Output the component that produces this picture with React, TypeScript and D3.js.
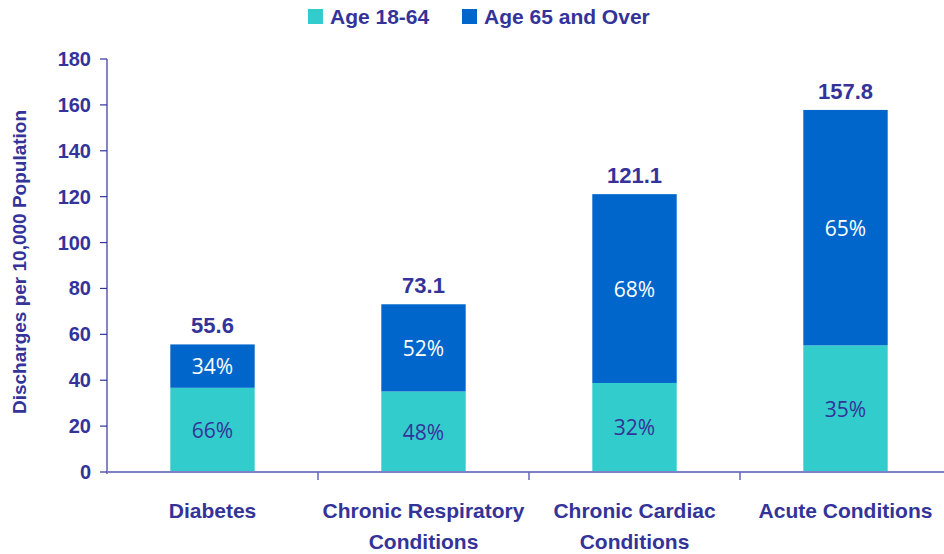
import * as d3 from 'd3';

const categories = ['Diabetes', 'Chronic Respiratory|Conditions', 'Chronic Cardiac|Conditions', 'Acute Conditions'];
const under65 = [36.7, 35.1, 38.8, 55.2];
const over65 = [18.9, 38.0, 82.3, 102.6];
const totals = ['55.6', '73.1', '121.1', '157.8'];
const pctUnder = ['66%', '48%', '32%', '35%'];
const pctOver = ['34%', '52%', '68%', '65%'];
const yTicks = [0, 20, 40, 60, 80, 100, 120, 140, 160, 180];
const seriesNames = ['Age 18-64', 'Age 65 and Over'];

const TEAL = '#33cccc';
const BLUE = '#0066cc';
const NAVY = '#333399';

export default function App() {
  const width = 944;
  const height = 554;
  const left = 107;
  const bottom = 472;
  const top = 59;

  const x = d3.scaleBand<string>().domain(categories).range([left, left + 4 * 211]).paddingInner(0).paddingOuter(0);
  const y = d3.scaleLinear().domain([0, 180]).range([bottom, top]);
  const barW = x.bandwidth() * 0.4;

  const narrow = '"Liberation Sans Narrow", "Arial Narrow", sans-serif';
  const sans = '"Liberation Sans", Arial, sans-serif';

  return (
    <svg width={width} height={height} style={{ position: 'absolute', left: 0, top: 0 }}>
      <rect width={width} height={height} fill="#fff" />

      {/* legend */}
      <g fontFamily={narrow} fontWeight="bold" fontSize={21} fill={NAVY}>
        <rect x={308} y={9} width={15} height={15} fill={TEAL} />
        <text x={330} y={24}>{seriesNames[0]}</text>
        <rect x={462} y={9} width={15} height={15} fill={BLUE} />
        <text x={484} y={24}>{seriesNames[1]}</text>
      </g>

      {/* y axis */}
      <line x1={left} x2={left} y1={top} y2={bottom + 2} stroke={NAVY} strokeWidth={1.2} />
      {yTicks.map((t) => (
        <g key={t}>
          <line x1={left - 7} x2={left} y1={y(t)} y2={y(t)} stroke={NAVY} strokeWidth={1.2} />
          <text x={91} y={y(t) + 7} textAnchor="end" fontFamily={sans} fontWeight="bold" fontSize={20} fill={NAVY}>
            {t}
          </text>
        </g>
      ))}
      <text
        transform={`translate(26, ${(102 + 422) / 2}) rotate(-90)`}
        textAnchor="middle"
        fontFamily={sans}
        fontWeight="bold"
        fontSize={19}
        fill={NAVY}
      >
        Discharges per 10,000 Population
      </text>

      {/* bars */}
      {categories.map((c, i) => {
        const cx = (x(c) as number) + x.bandwidth() / 2;
        const y0 = y(0);
        const y1 = y(under65[i]);
        const y2 = y(under65[i] + over65[i]);
        return (
          <g key={c}>
            <rect x={cx - barW / 2} y={y1} width={barW} height={y0 - y1} fill={TEAL} />
            <rect x={cx - barW / 2} y={y2} width={barW} height={y1 - y2} fill={BLUE} />
            <text x={cx} y={(y0 + y1) / 2 + 8} textAnchor="middle" fontFamily='"Open Sans", sans-serif' fontSize={21} fill={NAVY}>
              {pctUnder[i]}
            </text>
            <text x={cx} y={(y1 + y2) / 2 + 8} textAnchor="middle" fontFamily='"Open Sans", sans-serif' fontSize={21} fill="#fff">
              {pctOver[i]}
            </text>
            <text x={cx} y={y2 - 11} textAnchor="middle" fontFamily={sans} fontWeight="bold" fontSize={22} fill={NAVY}>
              {totals[i]}
            </text>
          </g>
        );
      })}

      {/* x axis */}
      <line x1={left} x2={width} y1={bottom} y2={bottom} stroke="#8080c8" strokeWidth={2} />
      {categories.map((c, i) =>
        i === 0 ? null : (
          <line key={c} x1={x(c)} x2={x(c)} y1={bottom} y2={bottom + 8} stroke="#6666bb" strokeWidth={1.5} />
        )
      )}
      {categories.map((c) => {
        const cx = (x(c) as number) + x.bandwidth() / 2;
        const lines = c.split('|');
        return (
          <text key={c} textAnchor="middle" fontFamily={narrow} fontWeight="bold" fontSize={21} fill={NAVY}>
            {lines.map((l, j) => (
              <tspan key={j} x={cx} y={518 + j * 31}>
                {l}
              </tspan>
            ))}
          </text>
        );
      })}
    </svg>
  );
}
